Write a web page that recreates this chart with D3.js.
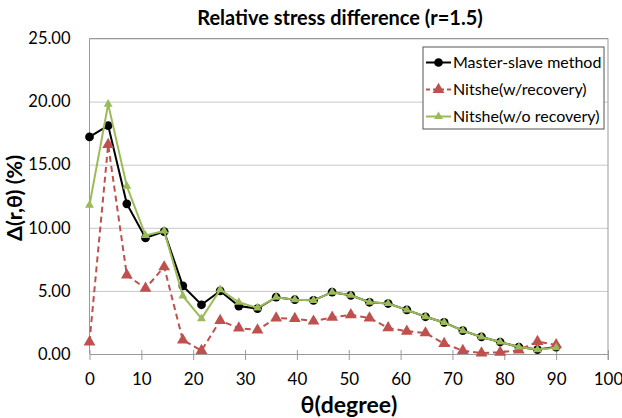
<!DOCTYPE html>
<html>
<head>
<meta charset="utf-8">
<script src="https://cdn.jsdelivr.net/npm/d3@7"></script>
<style>
  body { margin: 0; background: #fff; }
  svg text { font-family: Lato, "Open Sans", sans-serif; fill: #000; }
  .grid line { stroke: #c8c8c8; stroke-width: 1; }
  .grid path { display: none; }
  .axis path, .axis line { stroke: #9a9a9a; stroke-width: 1; }
  .title { font-weight: bold; font-size: 20px; }
  .axis-title { font-weight: bold; font-size: 23px; }
</style>
</head>
<body>
<div id="chart"></div>
<script>
var theta = [0, 3.6, 7.2, 10.8, 14.4, 18, 21.6, 25.2, 28.8, 32.4, 36, 39.6, 43.2,
  46.8, 50.4, 54, 57.6, 61.2, 64.8, 68.4, 72, 75.6, 79.2, 82.8, 86.4, 90];
var masterSlave = [17.2, 18.1, 11.9, 9.2, 9.7, 5.4, 3.9, 5.0, 3.8, 3.6, 4.5, 4.3, 4.25,
  4.9, 4.65, 4.1, 4.0, 3.5, 2.95, 2.5, 1.85, 1.35, 0.95, 0.55, 0.35, 0.55];
var nitsheRec = [0.95, 16.6, 6.25, 5.2, 6.9, 1.1, 0.27, 2.65, 2.05, 1.9, 2.85, 2.8, 2.6,
  2.9, 3.1, 2.85, 2.07, 1.8, 1.67, 0.82, 0.27, 0.08, 0.13, 0.3, 0.98, 0.72];
var nitsheNoRec = [11.8, 19.8, 13.3, 9.4, 9.75, 4.6, 2.8, 5.1, 4.1, 3.65, 4.5, 4.3, 4.25,
  4.9, 4.65, 4.1, 4.0, 3.5, 2.95, 2.5, 1.85, 1.35, 0.95, 0.55, 0.35, 0.5];
var seriesNames = ["Master-slave method", "Nitshe(w/recovery)", "Nitshe(w/o recovery)"];
var xTicks = [0, 10, 20, 30, 40, 50, 60, 70, 80, 90, 100];
var yTicks = [0, 5, 10, 15, 20, 25];

var width = 622, height = 418;
var plot = { left: 89.5, right: 608, top: 38.5, bottom: 354 };

var svg = d3.select("#chart").append("svg")
  .attr("width", width).attr("height", height);

var x = d3.scaleLinear().domain([0, 100]).range([plot.left, plot.right]);
var y = d3.scaleLinear().domain([0, 25]).range([plot.bottom, plot.top]);

// horizontal gridlines
svg.append("g").attr("class", "grid")
  .attr("transform", "translate(" + plot.left + ",0)")
  .call(d3.axisLeft(y).tickValues(yTicks.slice(1)).tickSize(-(plot.right - plot.left)).tickFormat(""));

// plot border (right + top)
svg.append("path")
  .attr("d", "M" + plot.left + "," + plot.top + "H" + plot.right + "V" + (plot.bottom + 6))
  .attr("fill", "none").attr("stroke", "#9a9a9a");

// y axis
var yAxis = svg.append("g").attr("class", "axis")
  .attr("transform", "translate(" + plot.left + ",0)")
  .call(d3.axisLeft(y).tickValues(yTicks).tickSize(0).tickPadding(19).tickFormat(d3.format(".2f")));
yAxis.select(".domain").attr("d", "M0," + plot.top + "V" + plot.bottom);
yAxis.selectAll("text").style("font-size", "16.5px");

// x axis
var xAxis = svg.append("g").attr("class", "axis")
  .attr("transform", "translate(0," + plot.bottom + ")")
  .call(d3.axisBottom(x).tickValues(xTicks).tickSizeInner(6).tickSizeOuter(0).tickPadding(13));
xAxis.selectAll(".tick line").attr("y1", -4);
xAxis.selectAll("text").style("font-size", "17px");

// titles
svg.append("text").attr("class", "title")
  .attr("x", 340).attr("y", 25).attr("text-anchor", "middle")
  .text("Relative stress difference (r=1.5)");
svg.append("text").attr("class", "axis-title")
  .attr("x", 349).attr("y", 413).attr("text-anchor", "middle")
  .text("θ(degree)");
svg.append("text").attr("class", "axis-title")
  .attr("transform", "translate(22,198) rotate(-90)").attr("text-anchor", "middle")
  .style("font-size", "21.5px")
  .text("Δ(r,θ) (%)");

var series = [
  { name: seriesNames[0], values: masterSlave, color: "#000000", dash: null, marker: "circle", size: 60 },
  { name: seriesNames[1], values: nitsheRec, color: "#c0504d", dash: "6,4", marker: "triangle", size: 60 },
  { name: seriesNames[2], values: nitsheNoRec, color: "#9bbb59", dash: null, marker: "triangle", size: 34 }
];

var line = d3.line()
  .x(function(d) { return x(d[0]); })
  .y(function(d) { return y(d[1]); });

function symbolFor(s) {
  return d3.symbol().type(s.marker === "circle" ? d3.symbolCircle : d3.symbolTriangle).size(s.size);
}

series.forEach(function(s) {
  var pts = theta.map(function(t, i) { return [t, s.values[i]]; });
  var g = svg.append("g");
  g.append("path").datum(pts).attr("d", line)
    .attr("fill", "none").attr("stroke", s.color).attr("stroke-width", 2)
    .attr("stroke-dasharray", s.dash);
  g.selectAll("path.pt").data(pts).enter().append("path").attr("class", "pt")
    .attr("transform", function(d) { return "translate(" + x(d[0]) + "," + y(d[1]) + ")"; })
    .attr("d", symbolFor(s)).attr("fill", s.color);
});

// legend
var legend = svg.append("g").attr("transform", "translate(423,47)");
legend.append("rect").attr("width", 181).attr("height", 82)
  .attr("fill", "#fff").attr("stroke", "#555").attr("stroke-width", 1);
series.forEach(function(s, i) {
  var row = legend.append("g").attr("transform", "translate(0," + (15.5 + i * 27) + ")");
  row.append("line").attr("x1", 3).attr("x2", 28)
    .attr("stroke", s.color).attr("stroke-width", 2).attr("stroke-dasharray", s.dash ? "4,3" : null);
  row.append("path").attr("transform", "translate(15.5,0)").attr("d", symbolFor(s)).attr("fill", s.color);
  row.append("text").attr("x", 30).attr("y", 0).attr("dy", "0.35em")
    .style("font-size", "16px").text(s.name);
});
</script>
</body>
</html>
